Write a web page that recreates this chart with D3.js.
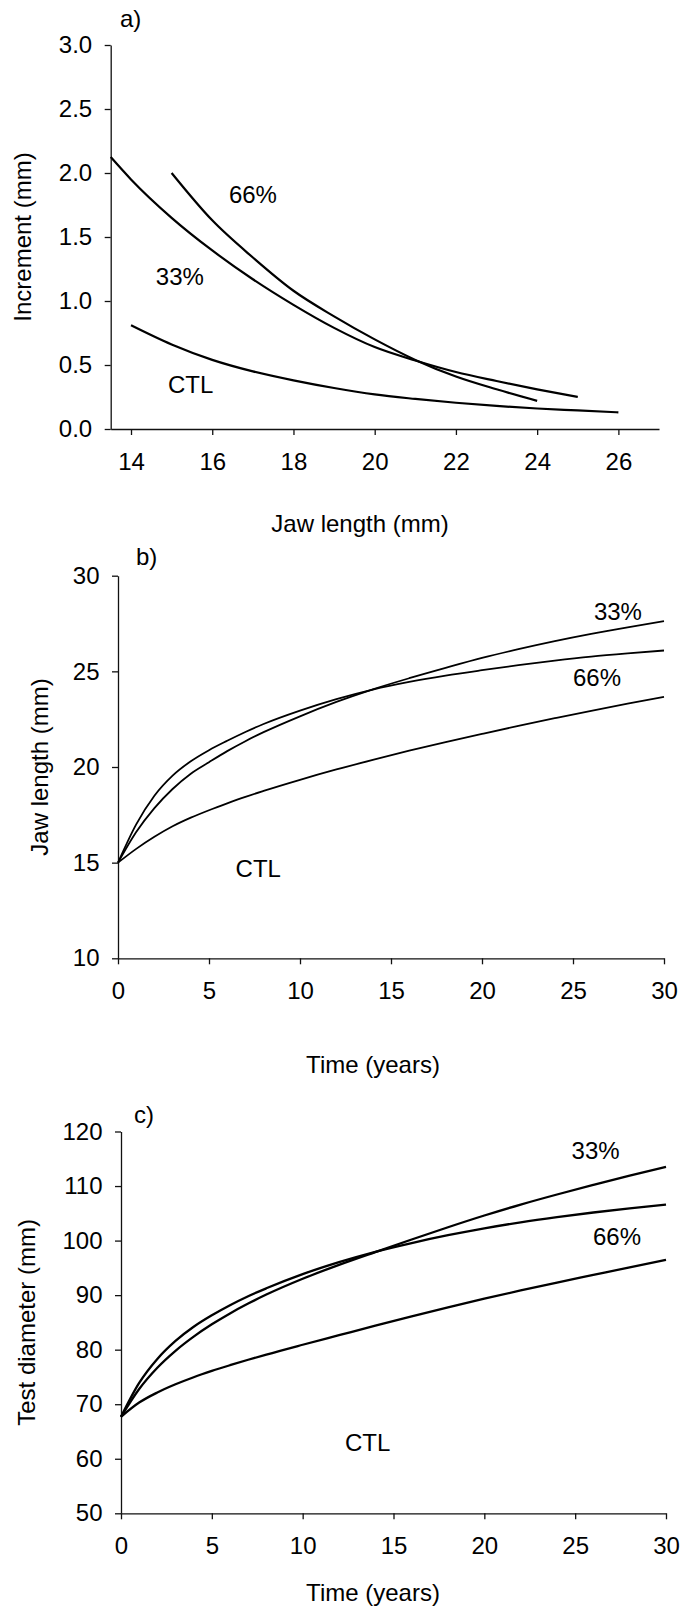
<!DOCTYPE html>
<html>
<head>
<meta charset="utf-8">
<script src="https://cdn.jsdelivr.net/npm/d3@7"></script>
<style>
  html, body { margin: 0; padding: 0; background: #fff; }
  svg { display: block; }
  text { font-family: "Liberation Sans", Arial, Helvetica, sans-serif; fill: #000; }
</style>
</head>
<body>
<div id="chart"></div>
<script>
// ---- a) Increment vs jaw length ----
const incJaw33 = [13.5, 14, 15, 16, 17, 18, 19, 20, 21, 22, 23, 24, 25];
const inc33    = [2.125, 1.95, 1.65, 1.395, 1.17, 0.97, 0.79, 0.64, 0.535, 0.445, 0.375, 0.31, 0.25];
const incJaw66 = [15, 16, 17, 18, 19, 20, 21, 22, 23, 24];
const inc66    = [2.0, 1.63, 1.34, 1.08, 0.88, 0.70, 0.54, 0.41, 0.31, 0.22];
const incJawCTL = [14, 15, 16, 17, 18, 19, 20, 21, 22, 23, 24, 25, 26];
const incCTL    = [0.81, 0.66, 0.54, 0.45, 0.38, 0.32, 0.27, 0.235, 0.205, 0.18, 0.16, 0.145, 0.13];

// ---- b) Jaw length vs time ----
const years = [0, 1, 2, 3, 4, 5, 6, 7, 8, 10, 12, 14, 16, 18, 20, 22, 24, 26, 28, 30];
const jaw33  = [15, 16.6, 17.85, 18.85, 19.65, 20.25, 20.83, 21.35, 21.82, 22.65, 23.4, 24.06, 24.64, 25.18, 25.7, 26.16, 26.58, 26.96, 27.3, 27.62];
const jaw66  = [15, 17.0, 18.5, 19.55, 20.3, 20.88, 21.37, 21.83, 22.25, 22.95, 23.55, 24.05, 24.45, 24.78, 25.06, 25.32, 25.56, 25.77, 25.94, 26.09];
const jawCTL = [15, 15.72, 16.35, 16.9, 17.35, 17.74, 18.1, 18.44, 18.75, 19.33, 19.87, 20.37, 20.85, 21.3, 21.73, 22.15, 22.55, 22.94, 23.31, 23.66];

// ---- c) Test diameter vs time ----
const test33  = [67.7, 72.8, 76.7, 79.8, 82.4, 84.65, 86.65, 88.45, 90.1, 93.0, 95.55, 97.9, 100.2, 102.45, 104.6, 106.6, 108.45, 110.2, 111.9, 113.5];
const test66  = [67.7, 73.9, 78.3, 81.6, 84.2, 86.3, 88.15, 89.8, 91.25, 93.85, 96.05, 97.95, 99.55, 100.98, 102.25, 103.35, 104.3, 105.15, 105.9, 106.6];
const testCTL = [67.7, 70.3, 72.15, 73.65, 74.95, 76.1, 77.15, 78.15, 79.1, 80.9, 82.65, 84.4, 86.1, 87.75, 89.35, 90.85, 92.3, 93.7, 95.1, 96.45];

// tick values
const ticksA_x = [14, 16, 18, 20, 22, 24, 26];
const ticksA_y = [0, 0.5, 1.0, 1.5, 2.0, 2.5, 3.0];
const ticksTime = [0, 5, 10, 15, 20, 25, 30];
const ticksB_y = [10, 15, 20, 25, 30];
const ticksC_y = [50, 60, 70, 80, 90, 100, 110, 120];

const W = 680, H = 1606, FS = 24;

const svg = d3.select("#chart").append("svg")
  .attr("width", W).attr("height", H)
  .attr("viewBox", `0 0 ${W} ${H}`);
svg.append("rect").attr("width", W).attr("height", H).attr("fill", "#fff");

function zip(xs, ys) { return xs.map((x, i) => [x, ys[i]]); }

function panel(cfg) {
  const g = svg.append("g");
  const x = d3.scaleLinear().domain(cfg.xDomain).range(cfg.xRange);
  const y = d3.scaleLinear().domain(cfg.yDomain).range(cfg.yRange);

  const xAxis = d3.axisBottom(x).tickValues(cfg.xTicks).tickSize(6).tickSizeOuter(0)
    .tickPadding(17.5).tickFormat(d3.format("d"));
  const yAxis = d3.axisLeft(y).tickValues(cfg.yTicks).tickSize(6).tickSizeOuter(0)
    .tickPadding(12.5).tickFormat(cfg.yFormat);

  const gx = g.append("g").attr("transform", `translate(0,${cfg.yRange[0]})`).call(xAxis);
  const gy = g.append("g").attr("transform", `translate(${cfg.xRange[0]},0)`).call(yAxis);
  [gx, gy].forEach(a => {
    a.selectAll("path.domain").attr("stroke", "#111").attr("stroke-width", 1.3);
    a.selectAll(".tick line").attr("stroke", "#111").attr("stroke-width", 1.3);
    a.selectAll(".tick text").attr("font-size", FS)
      .attr("font-family", "Liberation Sans, Arial, sans-serif").attr("fill", "#000");
  });

  const line = d3.line().x(d => x(d[0])).y(d => y(d[1])).curve(d3.curveMonotoneX);
  cfg.series.forEach(s => {
    g.append("path").datum(s.pts)
      .attr("fill", "none").attr("stroke", "#000")
      .attr("stroke-width", cfg.lineWidth)
      .attr("stroke-linejoin", "round").attr("stroke-linecap", "butt")
      .attr("d", line);
  });

  // series labels placed in data coordinates
  cfg.labels.forEach(l => {
    g.append("text").attr("x", x(l.at[0])).attr("y", y(l.at[1]))
      .attr("font-size", FS).text(l.text);
  });

  // panel letter
  g.append("text").attr("x", cfg.letter.x).attr("y", cfg.letter.y)
    .attr("font-size", FS).text(cfg.letter.text);

  // axis titles
  g.append("text").attr("x", cfg.xTitle.x).attr("y", cfg.xTitle.y)
    .attr("text-anchor", "middle").attr("font-size", FS).text(cfg.xTitle.text);
  const yMid = (cfg.yRange[0] + cfg.yRange[1]) / 2;
  g.append("text")
    .attr("transform", `translate(${cfg.yTitle.x},${yMid}) rotate(-90)`)
    .attr("text-anchor", "middle").attr("font-size", FS).text(cfg.yTitle.text);
}

panel({
  xDomain: [13.5, 27], xRange: [110.7, 659],
  yDomain: [0, 3], yRange: [429, 45],
  xTicks: ticksA_x, yTicks: ticksA_y, yFormat: d3.format(".1f"),
  lineWidth: 2.2,
  series: [
    { pts: zip(incJaw33, inc33) },
    { pts: zip(incJaw66, inc66) },
    { pts: zip(incJawCTL, incCTL) }
  ],
  labels: [
    { text: "66%", at: [16.41, 1.766] },
    { text: "33%", at: [14.61, 1.125] },
    { text: "CTL", at: [14.91, 0.28] }
  ],
  letter: { text: "a)", x: 120, y: 27 },
  xTitle: { text: "Jaw length (mm)", x: 360, y: 532 },
  yTitle: { text: "Increment (mm)", x: 31 }
});

panel({
  xDomain: [0, 30], xRange: [118, 664],
  yDomain: [10, 30], yRange: [958.3, 575.7],
  xTicks: ticksTime, yTicks: ticksB_y, yFormat: d3.format("d"),
  lineWidth: 1.8,
  series: [
    { pts: zip(years, jaw33) },
    { pts: zip(years, jaw66) },
    { pts: zip(years, jawCTL) }
  ],
  labels: [
    { text: "33%", at: [26.15, 27.66] },
    { text: "66%", at: [25.0, 24.23] },
    { text: "CTL", at: [6.46, 14.25] }
  ],
  letter: { text: "b)", x: 136, y: 565 },
  xTitle: { text: "Time (years)", x: 373, y: 1073 },
  yTitle: { text: "Jaw length (mm)", x: 48 }
});

panel({
  xDomain: [0, 30], xRange: [121, 666],
  yDomain: [50, 120], yRange: [1513.3, 1131.5],
  xTicks: ticksTime, yTicks: ticksC_y, yFormat: d3.format("d"),
  lineWidth: 2.3,
  series: [
    { pts: zip(years, test33) },
    { pts: zip(years, test66) },
    { pts: zip(years, testCTL) }
  ],
  labels: [
    { text: "33%", at: [24.8, 114.96] },
    { text: "66%", at: [25.98, 99.19] },
    { text: "CTL", at: [12.33, 61.42] }
  ],
  letter: { text: "c)", x: 134, y: 1123 },
  xTitle: { text: "Time (years)", x: 373, y: 1601 },
  yTitle: { text: "Test diameter (mm)", x: 35 }
});
</script>
</body>
</html>
